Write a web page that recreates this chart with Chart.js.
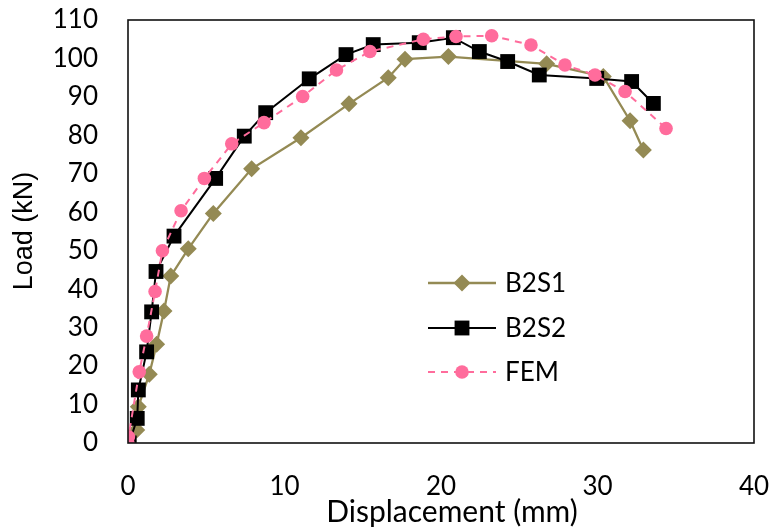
<!DOCTYPE html>
<html>
<head>
<meta charset="utf-8">
<script src="https://cdn.jsdelivr.net/npm/chart.js@4.4.1/dist/chart.umd.min.js"></script>
<style>
  html, body { margin: 0; padding: 0; background: #fff; }
  #box { width: 770px; height: 532px; position: relative; }
</style>
</head>
<body>
<div id="box"><canvas id="chart"></canvas></div>
<script>
// data
const b2s1X = [0, 0.56, 0.66, 1.36, 1.83, 2.30, 2.73, 3.85, 5.45, 7.90, 11.05, 14.12, 16.63, 17.70, 20.47, 26.75, 30.37, 32.08, 32.93];
const b2s1Y = [0, 3.4, 9.4, 17.9, 25.7, 34.3, 43.4, 50.5, 59.7, 71.3, 79.4, 88.2, 95.0, 99.8, 100.5, 98.6, 95.3, 83.8, 76.2];

const b2s2X = [0.08, 0.59, 0.66, 1.19, 1.51, 1.79, 2.94, 5.60, 7.43, 8.80, 11.58, 13.93, 15.67, 18.61, 20.79, 22.45, 24.26, 26.28, 29.95, 32.18, 33.57];
const b2s2Y = [0, 6.4, 13.8, 23.7, 34.1, 44.6, 53.8, 68.8, 79.8, 85.9, 94.7, 101.0, 103.6, 104.1, 105.4, 101.8, 99.2, 95.7, 94.8, 94.0, 88.3];

const femX = [0, 0.03, 0.72, 1.19, 1.73, 2.20, 3.39, 4.88, 6.63, 8.69, 11.16, 13.32, 15.46, 18.87, 20.96, 23.24, 25.75, 27.92, 29.84, 31.76, 34.38];
const femY = [0, 1.6, 18.5, 27.8, 39.4, 50.0, 60.4, 68.8, 77.8, 83.3, 90.1, 97.0, 101.8, 105.0, 105.7, 105.9, 103.5, 98.3, 95.7, 91.4, 81.8];

const seriesNames = ['B2S1', 'B2S2', 'FEM'];
const xTitle = 'Displacement (mm)';
const yTitle = 'Load (kN)';

const OLIVE = '#948A54';
const PINK = '#FF6C9C';
const FONT = 'Lato, "Open Sans", sans-serif';

const pts = (xs, ys) => xs.map((x, i) => ({ x, y: ys[i] }));

// 畫外框、軸標題、圖例
const framePlugin = {
  id: 'frame',
  afterDraw(chart) {
    const { ctx, chartArea: a } = chart;
    ctx.save();
    ctx.strokeStyle = '#111';
    ctx.lineWidth = 1.6;
    ctx.strokeRect(a.left, a.top, a.right - a.left, a.bottom - a.top);

    // axis titles
    ctx.fillStyle = '#000';
    ctx.textAlign = 'center';
    ctx.textBaseline = 'middle';
    ctx.font = '30px ' + FONT;
    ctx.fillText(xTitle, 452, 512);
    ctx.save();
    ctx.translate(25, 231);
    ctx.rotate(-Math.PI / 2);
    ctx.font = '27px "Liberation Sans", Arial, sans-serif';
    ctx.fillText(yTitle, 0, 0);
    ctx.restore();

    // legend
    const rows = [283, 328, 372];
    chart.data.datasets.forEach(ds => {
      const y = rows[ds.legendRow];
      ctx.strokeStyle = ds.borderColor;
      ctx.lineWidth = ds.borderWidth;
      ctx.setLineDash(ds.borderDash || []);
      ctx.beginPath();
      ctx.moveTo(428, y);
      ctx.lineTo(496, y);
      ctx.stroke();
      ctx.setLineDash([]);
      ctx.fillStyle = ds.pointBackgroundColor;
      const cx = 462, r = ds.pointRadius;
      ctx.beginPath();
      if (ds.pointStyle === 'rectRot') {
        ctx.moveTo(cx - r, y); ctx.lineTo(cx, y - r); ctx.lineTo(cx + r, y); ctx.lineTo(cx, y + r);
      } else if (ds.pointStyle === 'rect') {
        const s = r * Math.SQRT1_2;
        ctx.rect(cx - s, y - s, 2 * s, 2 * s);
      } else {
        ctx.arc(cx, y, r, 0, Math.PI * 2);
      }
      ctx.closePath();
      ctx.fill();
      ctx.fillStyle = '#000';
      ctx.font = '26px ' + FONT;
      ctx.textBaseline = 'middle';
      ctx.textAlign = 'left';
      ctx.fillText(seriesNames[ds.legendRow], 505, y + 1);
    });
    ctx.restore();
  }
};

const noPad = s => { s.paddingLeft = s.paddingRight = s.paddingTop = s.paddingBottom = 0; };

new Chart(document.getElementById('chart'), {
  type: 'scatter',
  data: {
    datasets: [
      {
        label: 'B2S1', legendRow: 0, order: 2,
        data: pts(b2s1X, b2s1Y), showLine: true,
        borderColor: OLIVE, borderWidth: 2.3,
        pointStyle: 'rectRot', pointRadius: 8.5,
        pointBackgroundColor: OLIVE, pointBorderColor: OLIVE, pointBorderWidth: 0
      },
      {
        label: 'B2S2', legendRow: 1, order: 1,
        data: pts(b2s2X, b2s2Y), showLine: true,
        borderColor: '#000', borderWidth: 2,
        pointStyle: 'rect', pointRadius: 10.5,
        pointBackgroundColor: '#000', pointBorderColor: '#000', pointBorderWidth: 0
      },
      {
        label: 'FEM', legendRow: 2, order: 0,
        data: pts(femX, femY), showLine: true,
        borderColor: PINK, borderWidth: 2, borderDash: [7, 6],
        pointStyle: 'circle', pointRadius: 6.8,
        pointBackgroundColor: PINK, pointBorderColor: PINK, pointBorderWidth: 0
      }
    ]
  },
  options: {
    responsive: true,
    maintainAspectRatio: false,
    animation: false,
    layout: { padding: { left: 0, top: 20, right: 16, bottom: 0 } },
    plugins: { legend: { display: false }, tooltip: { enabled: false } },
    scales: {
      x: {
        type: 'linear', min: 0, max: 40,
        grid: { display: false, drawTicks: false },
        border: { display: false },
        ticks: { stepSize: 10, padding: 28, color: '#000', font: { family: FONT, size: 26 } },
        afterFit: s => { s.height = 89; noPad(s); }
      },
      y: {
        type: 'linear', min: 0, max: 110,
        grid: { display: false, drawTicks: false },
        border: { display: false },
        ticks: { stepSize: 10, padding: 30, color: '#000', font: { family: FONT, size: 26 } },
        afterFit: s => { s.width = 128; noPad(s); }
      }
    }
  },
  plugins: [framePlugin]
});
</script>
</body>
</html>
